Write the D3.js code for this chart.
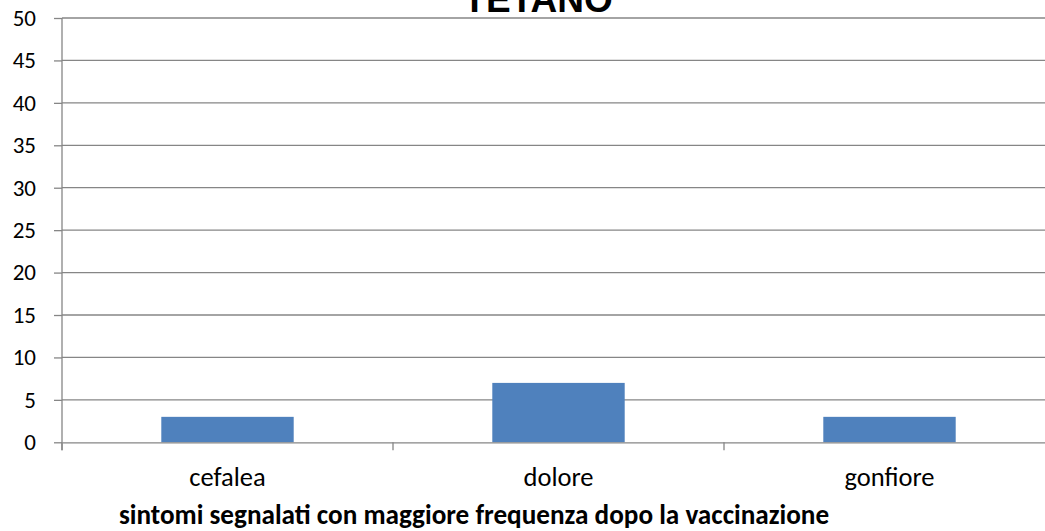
<!DOCTYPE html>
<html>
<head>
<meta charset="utf-8">
<script src="https://cdn.jsdelivr.net/npm/d3@7"></script>
<style>
  body { margin: 0; background: #fff; }
  svg { display: block; }
  .tick text { font-family: Carlito, Calibri, Lato, sans-serif; }
</style>
</head>
<body>
<div id="container"></div>
<script>
// chart data
const categories = ['cefalea', 'dolore', 'gonfiore'];
const values = [3, 7, 3];
const yTicks = [0, 5, 10, 15, 20, 25, 30, 35, 40, 45, 50];
const chartTitle = 'TETANO';
const xTitle = 'sintomi segnalati con maggiore frequenza dopo la vaccinazione';

const width = 1045;
const height = 531;
const plot = { left: 62, right: 1055, top: 18, bottom: 442.3 };

const svg = d3.select('#container')
  .append('svg')
  .attr('width', width)
  .attr('height', height);

const x = d3.scaleBand()
  .domain(categories)
  .range([plot.left, plot.right])
  .paddingInner(0.6)
  .paddingOuter(0.3);

const y = d3.scaleLinear().domain([0, 50]).range([plot.bottom, plot.top]);

// gridlines
svg.append('g')
  .selectAll('line')
  .data(yTicks.filter(d => d > 0))
  .join('line')
  .attr('x1', plot.left)
  .attr('x2', plot.right)
  .attr('y1', d => y(d))
  .attr('y2', d => y(d))
  .attr('stroke', '#868686')
  .attr('stroke-width', 1.3);

// bars
svg.append('g')
  .selectAll('rect')
  .data(categories)
  .join('rect')
  .attr('x', d => x(d))
  .attr('y', (d, i) => y(values[i]))
  .attr('width', x.bandwidth())
  .attr('height', (d, i) => y(0) - y(values[i]))
  .attr('fill', '#4F81BD');

// y axis
const yAxis = svg.append('g')
  .attr('transform', `translate(${plot.left},0)`)
  .call(d3.axisLeft(y).tickValues(yTicks).tickSize(8).tickPadding(18));
yAxis.select('.domain').attr('stroke', '#868686').attr('stroke-width', 1.3)
  .attr('d', `M0,${plot.top}V${plot.bottom + 8}`);
yAxis.selectAll('.tick line').attr('stroke', '#868686').attr('stroke-width', 1.3);
yAxis.selectAll('.tick text').attr('font-size', 23).attr('fill', '#000');

// x axis
const xAxis = svg.append('g')
  .attr('transform', `translate(0,${plot.bottom})`)
  .call(d3.axisBottom(x).tickSize(0).tickPadding(0));
xAxis.select('.domain').attr('stroke', '#868686').attr('stroke-width', 1.3);
xAxis.selectAll('.tick text')
  .attr('font-size', 26.5)
  .attr('fill', '#000')
  .attr('dy', null)
  .attr('y', 485.7 - plot.bottom);

// category separator ticks
const step = x.step();
svg.append('g')
  .selectAll('line')
  .data(d3.range(categories.length + 1))
  .join('line')
  .attr('x1', i => plot.left + i * step)
  .attr('x2', i => plot.left + i * step)
  .attr('y1', plot.bottom)
  .attr('y2', plot.bottom + 8)
  .attr('stroke', '#868686')
  .attr('stroke-width', 1.3);

// title (partially cut off at the top, as in the original)
svg.append('text')
  .attr('x', 538)
  .attr('y', 12)
  .attr('text-anchor', 'middle')
  .attr('font-family', 'Liberation Sans, Arial, sans-serif')
  .attr('font-weight', 'bold')
  .attr('font-size', 37)
  .text(chartTitle);

// x axis title
svg.append('text')
  .attr('x', 474)
  .attr('y', 524)
  .attr('text-anchor', 'middle')
  .attr('font-family', 'Carlito, Calibri, Lato, sans-serif')
  .attr('font-weight', 'bold')
  .attr('font-size', 27.2)
  .text(xTitle);
</script>
</body>
</html>
